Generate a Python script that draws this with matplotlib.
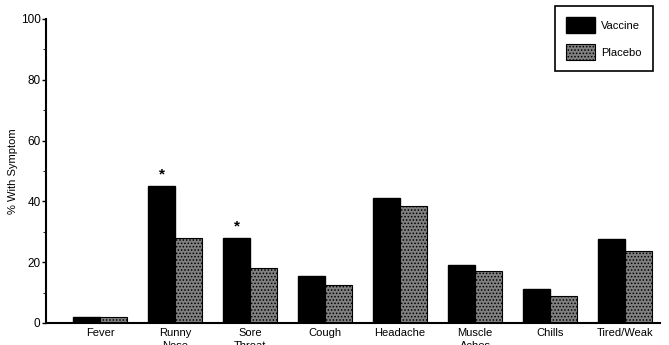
import matplotlib.pyplot as plt
import numpy as np

categories = ["Fever", "Runny\nNose", "Sore\nThroat", "Cough", "Headache",
              "Muscle\nAches", "Chills", "Tired/Weak"]
vaccine = [2, 45, 28, 15.5, 41, 19, 11, 27.5]
placebo = [2, 28, 18, 12.5, 38.5, 17, 9, 23.5]
starred = [1, 2]
yticks = [0, 20, 40, 60, 80, 100]

plt.rcParams['font.family'] = ['Liberation Sans', 'DejaVu Sans']
plt.rcParams['hatch.linewidth'] = 0.7

fig = plt.figure(figsize=(6.69, 3.45), dpi=100)
ax = fig.add_axes([0.069, 0.064, 0.918, 0.881])

x = np.arange(len(categories))
w = 0.36
ax.bar(x - w / 2, vaccine, w, color='black', edgecolor='black', label='Vaccine')
ax.bar(x + w / 2, placebo, w, color='#808080', edgecolor='black', hatch='.....',
       linewidth=0.8, label='Placebo')

for i in starred:
    ax.text(x[i] - w / 2, vaccine[i] + 1.5, '*', ha='center', va='bottom',
            fontsize=11, fontweight='bold')

ax.set_xlim(-0.72, 7.47)
ax.set_ylim(0, 100)
ax.set_yticks(yticks)
ax.set_yticks(np.arange(0, 101, 10), minor=True)
ax.set_xticks(x)
ax.set_xticklabels(categories, fontsize=8, va='top', linespacing=1.3)
ax.tick_params(axis='x', length=0, pad=4)
ax.tick_params(axis='y', labelsize=8.5, length=3, width=1, pad=1)
ax.tick_params(axis='y', which='minor', length=2)
ax.set_ylabel('% With Symptom', fontsize=8, labelpad=2)

ax.spines['top'].set_visible(False)
ax.spines['right'].set_visible(False)
ax.spines['left'].set_linewidth(1.5)
ax.spines['bottom'].set_linewidth(1.5)

leg = ax.legend(loc='upper right', bbox_to_anchor=(0.997, 1.06), fontsize=8,
                fancybox=False, edgecolor='black', framealpha=1,
                handlelength=2.6, handleheight=1.8, labelspacing=1.0,
                borderpad=1.0, handletextpad=0.6)
leg.get_frame().set_linewidth(1.2)

fig.savefig('out.png', dpi=100)
